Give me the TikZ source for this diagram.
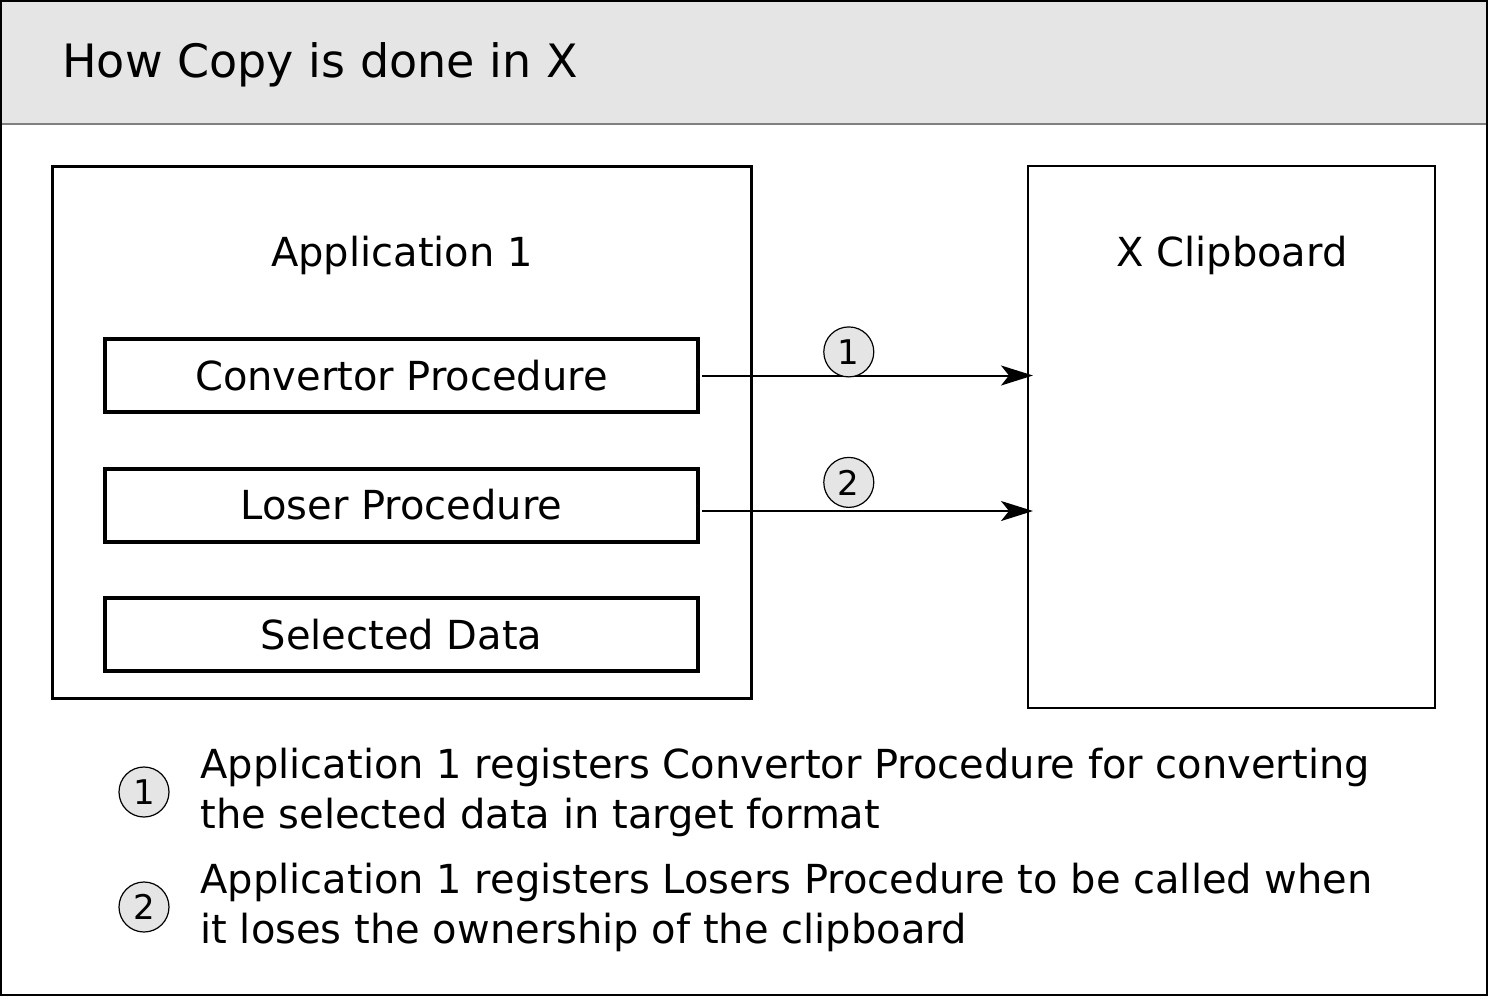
\documentclass[tikz,border=0pt]{standalone}
\usepackage{fontspec}
\setmainfont{DejaVu Sans}
\usetikzlibrary{arrows.meta,positioning,calc}

\begin{document}
\begin{tikzpicture}[
    x=0.5pt, y=-0.5pt,
    frame/.style={rectangle,draw,line width=1.5pt,inner sep=0pt},
    procbox/.style={rectangle,draw,line width=2pt,inner sep=0pt,minimum width=296.5pt,minimum height=36.5pt,font=\fontsize{20}{24}\selectfont},
    stepnum/.style={circle,draw,line width=0.6pt,fill=gray!20,minimum size=25pt,inner sep=0pt,font=\fontsize{17}{18}\selectfont},
    note/.style={align=left,inner sep=0pt,font=\fontsize{20}{25}\selectfont},
    link/.style={line width=1pt,-{Stealth[length=16pt,width=10pt,inset=4pt]}}
]
    \useasboundingbox (0,0) rectangle (1488,996);
    % Header
    \fill[gray!20] (0,0) rectangle (1488,124);
    \draw[gray,line width=1pt] (0,124) -- (1488,124);
    \draw[line width=1pt] (1,1) rectangle (1487,995);
    \node[anchor=west,inner sep=0pt,font=\fontsize{23}{28}\selectfont] (title) at (62,65) {How Copy is done in X};

    % Nodes
    \node[frame,minimum width=349.5pt,minimum height=266pt] (app) at (401.5,432) {};
    \node[font=\fontsize{20}{24}\selectfont] (applbl) at (402,255) {Application 1};
    \node[procbox] (conv) at (401.5,375.5) {Convertor Procedure};
    \node[procbox] (loser) at (401.5,505) {Loser Procedure};
    \node[procbox] (data) at (401.5,634.5) {Selected Data};
    \node[frame,line width=1pt,minimum width=203.5pt,minimum height=271pt] (clip) at (1231.5,437) {};
    \node[font=\fontsize{20}{24}\selectfont] (cliplbl) at (1232,255) {X Clipboard};

    % Edges
    \draw[link,shorten <=1pt,shorten >=-3pt] (conv.east) -- (conv.east -| clip.west)
        node[stepnum,pos=0.455,anchor=south,yshift=-1pt] (s1) {1};
    \draw[link,shorten <=1pt,shorten >=-3pt] ($(loser.east)+(0,6)$) -- ($(loser.east -| clip.west)+(0,6)$)
        node[stepnum,pos=0.455,anchor=south,yshift=1.5pt] (s2) {2};

    % Legend
    \node[stepnum] (k1) at (144,792) {1};
    \node[note,anchor=west] (t1) at (200,792) {Application 1 registers Convertor Procedure for converting\\the selected data in target format};
    \node[stepnum] (k2) at (144,907) {2};
    \node[note,anchor=west] (t2) at (200,907) {Application 1 registers Losers Procedure to be called when\\it loses the ownership of the clipboard};
\end{tikzpicture}
\end{document}
